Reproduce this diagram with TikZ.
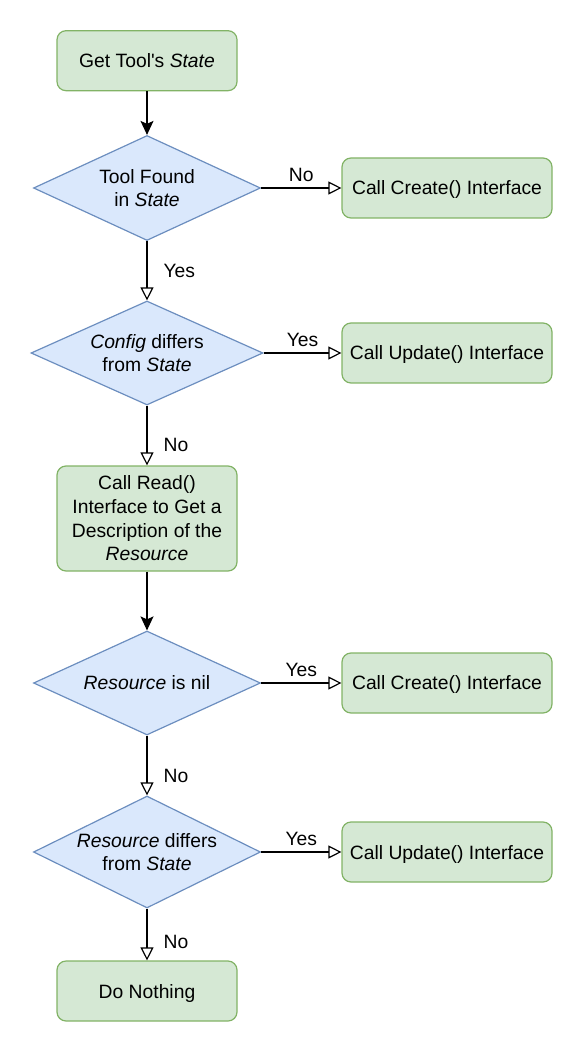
\documentclass[tikz,border=0pt]{standalone}
\usepackage{fontspec}
\setmainfont{Liberation Sans}
\usetikzlibrary{shapes.geometric,arrows.meta}
\definecolor{stepfill}{HTML}{D5E8D4}
\definecolor{stepline}{HTML}{82B366}
\definecolor{askfill}{HTML}{DAE8FC}
\definecolor{askline}{HTML}{6C8EBF}
\tikzset{
  stepbox/.style={draw=stepline, fill=stepfill, rounded corners=4.5pt, line width=0.6pt,
    minimum width=90pt, minimum height=30pt, inner sep=0pt, align=center},
  callbox/.style={stepbox, minimum width=105pt, text depth=0pt},
  askbox/.style={diamond, draw=askline, fill=askfill, line width=0.6pt,
    minimum width=113.5pt, minimum height=52.5pt, inner sep=0pt},
  asktext/.style={align=center, inner sep=0pt},
  branch/.style={line width=0.6pt, -{Triangle[open, length=6.5pt, width=6.5pt]}},
  follow/.style={line width=0.6pt, -{Stealth[length=7pt, width=6.5pt, inset=1.5pt]}},
  side/.style={inner sep=0pt, above=3pt},
  down/.style={inner sep=0pt, anchor=west, xshift=8pt}
}
\newcommand{\ask}[3]{\node[askbox, #3, label={[asktext]center:{#2}}] (#1)}

\begin{document}
\begin{tikzpicture}[x=0.5pt, y=-0.5pt, font=\fontsize{9.65}{11.8}\selectfont]
  \useasboundingbox (0,0) rectangle (584,1052);
  \node[stepbox, text depth=0pt] (get) at (147,60.7) {Get Tool\textquotesingle s \textit{State}};
  \ask{found}{Tool Found\\in \textit{State}}{} at (147,188) {};
  \node[callbox] (create1) at (447,188) {Call Create() Interface};
  \ask{config}{\textit{Config} differs\\from \textit{State}}{minimum width=116pt, minimum height=52pt} at (147,353) {};
  \node[callbox] (update1) at (447,353) {Call Update() Interface};
  \node[stepbox, minimum height=52.5pt] (read) at (147,518.5) {Call Read()\\Interface to Get a\\Description of the\\\textit{Resource}};
  \ask{isnil}{\textit{Resource} is nil}{minimum height=52pt} at (147,683) {};
  \node[callbox] (create2) at (447,683) {Call Create() Interface};
  \ask{differs}{\textit{Resource} differs\\from \textit{State}}{minimum height=56pt} at (147,852) {};
  \node[callbox] (update2) at (447,852) {Call Update() Interface};
  \node[stepbox, text depth=0pt] (nothing) at (147,991) {Do Nothing};

  \draw[follow] (get) -- (found);
  \draw[branch] (found) -- node[side] {No} (create1);
  \draw[branch] (found) -- node[down, pos=0.5] {Yes} (config);
  \draw[branch] (config) -- node[side] {Yes} (update1);
  \draw[branch] (config) -- node[down, pos=0.65] {No} (read);
  \draw[follow] (read) -- (isnil);
  \draw[branch] (isnil) -- node[side] {Yes} (create2);
  \draw[branch] (isnil) -- node[down, pos=0.67] {No} (differs);
  \draw[branch] (differs) -- node[side] {Yes} (update2);
  \draw[branch] (differs) -- node[down, pos=0.65] {No} (nothing);
\end{tikzpicture}
\end{document}
